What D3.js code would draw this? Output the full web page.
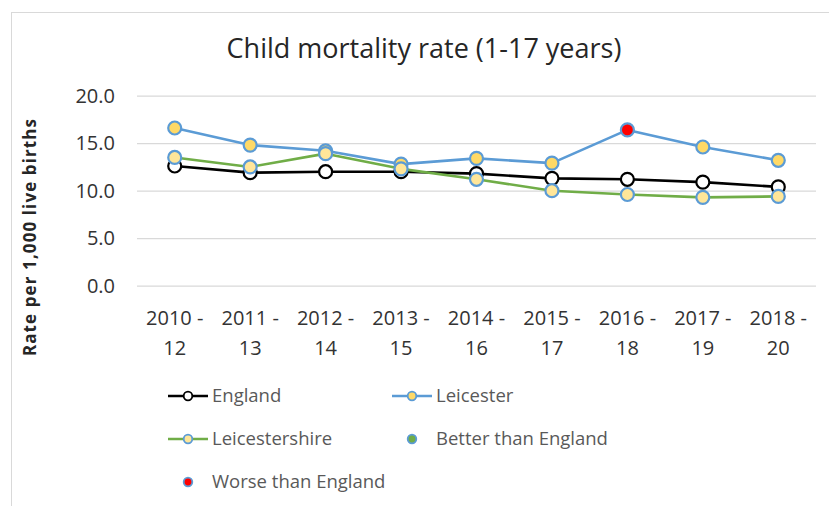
<!DOCTYPE html>
<html>
<head>
<meta charset="utf-8">
<script src="https://cdn.jsdelivr.net/npm/d3@7"></script>
<style>
  html, body { margin: 0; padding: 0; background: #fff; }
  svg { display: block; font-family: "Open Sans", Lato, sans-serif; }
</style>
</head>
<body>
<svg id="chart" width="829" height="506"></svg>
<script>
// Three-year periods (two-line tick labels)
const periods = ["2010 - 12", "2011 - 13", "2012 - 14", "2013 - 15", "2014 - 16",
                 "2015 - 17", "2016 - 18", "2017 - 19", "2018 - 20"];
const periodTop = ["2010 -", "2011 -", "2012 -", "2013 -", "2014 -", "2015 -", "2016 -", "2017 -", "2018 -"];
const periodBottom = ["12", "13", "14", "15", "16", "17", "18", "19", "20"];

// Rates per 1,000 live births
const england        = [12.6, 11.9, 12.0, 12.0, 11.8, 11.3, 11.2, 10.9, 10.4];
const leicester      = [16.6, 14.8, 14.2, 12.8, 13.4, 12.9, 16.4, 14.6, 13.2];
const leicestershire = [13.5, 12.5, 13.9, 12.3, 11.2, 10.0, 9.6, 9.3, 9.4];

// Comparison with England: "similar", "better" or "worse"
const leicesterStatus      = ["similar", "similar", "similar", "similar", "similar", "similar", "worse", "similar", "similar"];
const leicestershireStatus = ["similar", "similar", "similar", "similar", "similar", "similar", "similar", "similar", "similar"];

const yTicks = [0, 5, 10, 15, 20];

const svg = d3.select("#chart");
const W = 829, H = 506;
const plot = { left: 137, right: 816, top: 95.7, bottom: 285.7 };

// outer chart frame
svg.append("rect")
  .attr("x", 11.5).attr("y", 12.5)
  .attr("width", W + 10).attr("height", H + 10)
  .attr("fill", "#fff").attr("stroke", "#D9D9D9").attr("stroke-width", 1);

const x = d3.scaleBand().domain(periods).range([plot.left, plot.right]);
const y = d3.scaleLinear().domain([0, 20]).range([plot.bottom, plot.top]);
const cx = d => x(d) + x.bandwidth() / 2;

// title
svg.append("text")
  .attr("x", 424).attr("y", 58)
  .attr("text-anchor", "middle")
  .attr("font-size", 27).attr("fill", "#262626")
  .text("Child mortality rate (1-17 years)");

// gridlines + y tick labels
const yAxis = d3.axisLeft(y).tickValues(yTicks).tickFormat(d3.format(".1f"))
  .tickSize(-(plot.right - plot.left)).tickPadding(22);
const gy = svg.append("g").attr("transform", `translate(${plot.left},0)`).call(yAxis);
gy.select(".domain").remove();
gy.selectAll(".tick line").attr("stroke", "#D9D9D9").attr("stroke-width", 1.2);
gy.selectAll(".tick text").attr("font-size", 20).attr("fill", "#333333")
  .attr("font-family", "'Open Sans', sans-serif");

// y axis title
svg.append("text")
  .attr("transform", `translate(36,237) rotate(-90)`)
  .attr("text-anchor", "middle")
  .attr("font-size", 17).attr("font-weight", "bold").attr("fill", "#262626")
  .attr("letter-spacing", 1.1)
  .text("Rate per 1,000 live births");

// x tick labels (two lines)
const gx = svg.append("g").attr("transform", `translate(0,${plot.bottom})`)
  .call(d3.axisBottom(x).tickSize(0).tickFormat(""));
gx.select(".domain").remove();
gx.selectAll(".tick").each(function(d, i) {
  const t = d3.select(this).append("text")
    .attr("text-anchor", "middle").attr("font-size", 20).attr("fill", "#333333")
    .attr("font-family", "'Open Sans', sans-serif");
  t.append("tspan").attr("x", 0).attr("y", 39.5).text(periodTop[i]);
  t.append("tspan").attr("x", 0).attr("y", 69.5).text(periodBottom[i]);
});

const statusFill = { similar: "#FFD966", better: "#70AD47", worse: "#FF0000" };
const line = d3.line().x((d, i) => cx(periods[i])).y(d => y(d));

function drawSeries(values, color, markerFill, markerStroke, status) {
  const g = svg.append("g");
  g.append("path").datum(values)
    .attr("d", line).attr("fill", "none")
    .attr("stroke", color).attr("stroke-width", 2.6).attr("stroke-linejoin", "round");
  g.selectAll("circle").data(values).join("circle")
    .attr("cx", (d, i) => cx(periods[i])).attr("cy", d => y(d))
    .attr("r", 6.5)
    .attr("fill", (d, i) => status ? (status[i] === "similar" ? markerFill : statusFill[status[i]]) : markerFill)
    .attr("stroke", markerStroke).attr("stroke-width", 2.2);
}

drawSeries(england, "#000000", "#FFFFFF", "#000000", null);
drawSeries(leicester, "#5B9BD5", "#FFD966", "#5B9BD5", leicesterStatus);
drawSeries(leicestershire, "#70AD47", "#FFE699", "#5B9BD5", leicestershireStatus);

// legend
const legend = svg.append("g").attr("font-size", 18.5).attr("fill", "#595959");
const legendItems = [
  { label: "England", lx: 168, ly: 396, line: "#000000", fill: "#FFFFFF", stroke: "#000000" },
  { label: "Leicester", lx: 392, ly: 396, line: "#5B9BD5", fill: "#FFD966", stroke: "#5B9BD5" },
  { label: "Leicestershire", lx: 168, ly: 439, line: "#70AD47", fill: "#FFE699", stroke: "#5B9BD5" },
  { label: "Better than England", lx: 392, ly: 439, line: null, fill: "#70AD47", stroke: "#5B9BD5" },
  { label: "Worse than England", lx: 168, ly: 482, line: null, fill: "#FF0000", stroke: "#5B9BD5" }
];
legendItems.forEach(it => {
  if (it.line) {
    legend.append("line")
      .attr("x1", it.lx).attr("x2", it.lx + 40).attr("y1", it.ly).attr("y2", it.ly)
      .attr("stroke", it.line).attr("stroke-width", 2.4);
  }
  legend.append("circle")
    .attr("cx", it.lx + 20).attr("cy", it.ly).attr("r", 4.3)
    .attr("fill", it.fill).attr("stroke", it.stroke).attr("stroke-width", 1.8);
  legend.append("text")
    .attr("x", it.lx + 44).attr("y", it.ly).attr("dy", "0.35em")
    .text(it.label);
});
</script>
</body>
</html>
